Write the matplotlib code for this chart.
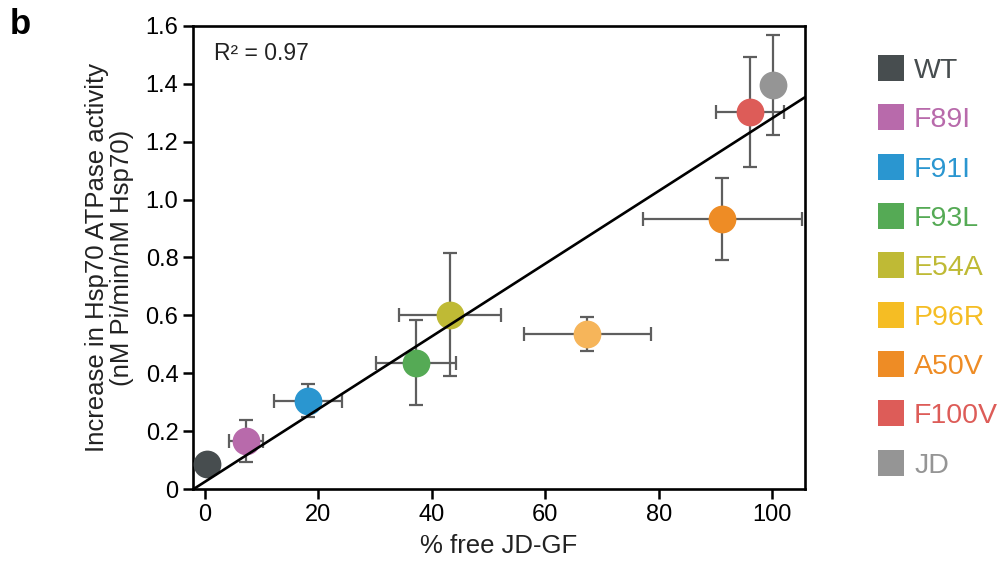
import matplotlib
matplotlib.use("Agg")
import matplotlib.pyplot as plt
from matplotlib.lines import Line2D
import numpy as np

plt.rcParams['font.family'] = ['Liberation Sans', 'DejaVu Sans']

# values
names = ["WT", "F89I", "F91I", "F93L", "E54A", "P96R", "A50V", "F100V", "JD"]
colors = ["#474d4f", "#b86aab", "#2a96d0", "#55aa55", "#bfba35",
          "#f5bd24", "#ee8c25", "#dd5c58", "#959595"]
marker_colors = ["#474d4f", "#b86aab", "#2a96d0", "#55aa55", "#bfba35",
                 "#f6b55a", "#ee8c25", "#dd5c58", "#959595"]
free_jd = [0.3, 7.2, 18.2, 37.2, 43.2, 67.4, 91.2, 96.1, 100.1]
free_err = [0.5, 3.0, 6.0, 7.0, 9.0, 11.2, 14.0, 6.0, 0.0]
activity = [0.086, 0.166, 0.305, 0.436, 0.603, 0.537, 0.933, 1.303, 1.396]
act_err = [0.015, 0.074, 0.057, 0.147, 0.213, 0.059, 0.141, 0.19, 0.172]

fit_slope = 0.01256
fit_intercept = 0.025
r2_text = "R² = 0.97"

fig = plt.figure(figsize=(10.01, 5.61), dpi=100)
ax = fig.add_axes([0.1928, 0.1283, 0.6114, 0.8254])

for i in range(len(names)):
    ax.errorbar(free_jd[i], activity[i], xerr=free_err[i], yerr=act_err[i],
                fmt='none', ecolor='#5e5e5e', elinewidth=1.6, capsize=5,
                capthick=1.6, zorder=2)
    ax.plot(free_jd[i], activity[i], 'o', color=marker_colors[i], markersize=20,
            markeredgewidth=0, zorder=3)

ax.axline((0, fit_intercept), slope=fit_slope, color='black', lw=1.9, zorder=4)

ax.set_xlim(-2.1, 105.8)
ax.set_ylim(0, 1.6)
ax.set_xticks([0, 20, 40, 60, 80, 100])
ax.set_yticks([0, 0.2, 0.4, 0.6, 0.8, 1.0, 1.2, 1.4, 1.6])
ax.set_yticklabels(["0", "0.2", "0.4", "0.6", "0.8", "1.0", "1.2", "1.4", "1.6"])
ax.tick_params(labelsize=17, width=1.8, length=7, direction='out', color='black')
for s in ax.spines.values():
    s.set_linewidth(1.9)

ax.set_xlabel("% free JD-GF", fontsize=18.5, color='#222222', labelpad=6)
ax.set_ylabel("Increase in Hsp70 ATPase activity\n(nM Pi/min/nM Hsp70)",
              fontsize=18.5, color='#222222', labelpad=8, linespacing=1.05)
ax.text(0.035, 0.965, r2_text, transform=ax.transAxes, fontsize=16.5,
        va='top', ha='left', color='#222222')

fig.text(0.010, 0.985, "b", fontsize=25, fontweight='bold', va='top')

handles = [Line2D([], [], marker='s', linestyle='none', color=c,
                  markersize=19, markeredgewidth=0) for c in colors]
leg = fig.legend(handles, names, loc='upper left',
                 bbox_to_anchor=(0.862, 0.917), frameon=False, fontsize=20.5,
                 labelspacing=0.82, handletextpad=0.2, handlelength=1.2,
                 labelcolor=colors, borderaxespad=0)

fig.savefig("out.png", dpi=100)
